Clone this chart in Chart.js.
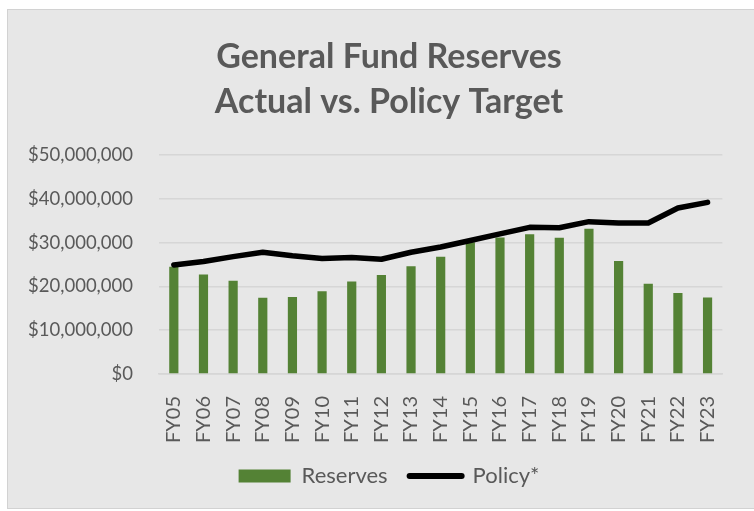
<!DOCTYPE html>
<html>
<head>
<meta charset="utf-8">
<script src="https://cdn.jsdelivr.net/npm/chart.js@4.4.1/dist/chart.umd.min.js"></script>
<style>
  html, body { margin: 0; padding: 0; background: #ffffff; }
  #frame {
    position: absolute; left: 7px; top: 9px;
    width: 747px; height: 500px;
    box-sizing: border-box;
    background: #e7e7e7;
    border-left: 1px solid #d2d2d2;
    border-top: 1px solid #d2d2d2;
    border-bottom: 1px solid #d2d2d2;
  }
  #wrap { position: absolute; left: 0; top: 0; width: 746px; height: 498px; }
</style>
</head>
<body>
<div id="frame"><div id="wrap"><canvas id="chart"></canvas></div></div>
<script>
const fiscalYears = ['FY05','FY06','FY07','FY08','FY09','FY10','FY11','FY12','FY13','FY14',
                     'FY15','FY16','FY17','FY18','FY19','FY20','FY21','FY22','FY23'];

// Actual general fund reserve balance at year end
const reserves = [24500000, 22700000, 21300000, 17400000, 17600000, 18900000, 21100000, 22600000,
                  24600000, 26800000, 30100000, 31200000, 31900000, 31100000, 33200000, 25800000,
                  20600000, 18500000, 17500000];

// Reserve target required by policy
const policy = [24900000, 25700000, 26800000, 27800000, 27000000, 26400000, 26600000, 26200000,
                27800000, 29000000, 30500000, 32000000, 33500000, 33400000, 34800000, 34500000,
                34500000, 37900000, 39200000];

const yTicks = [0, 10000000, 20000000, 30000000, 40000000, 50000000];

const textGray = '#595959';
const fontFamily = 'Lato, "Open Sans", sans-serif';

const money = v => '$' + Number(v).toLocaleString('en-US');

// Let the dollar labels run into the left margin instead of being clipped to the axis box
const widenYLabels = {
  id: 'widenYLabels',
  afterLayout(chart) { chart.scales.y.left = 0; }
};

new Chart(document.getElementById('chart'), {
  plugins: [widenYLabels],
  data: {
    labels: fiscalYears,
    datasets: [
      {
        type: 'bar',
        label: 'Reserves',
        data: reserves,
        backgroundColor: '#548235',
        borderWidth: 0,
        categoryPercentage: 1,
        barPercentage: 0.31,
        order: 2
      },
      {
        type: 'line',
        label: 'Policy*',
        data: policy,
        borderColor: '#000000',
        backgroundColor: '#000000',
        borderWidth: 5.5,
        borderCapStyle: 'round',
        borderJoinStyle: 'round',
        pointRadius: 0,
        tension: 0,
        order: 1
      }
    ]
  },
  options: {
    responsive: true,
    maintainAspectRatio: false,
    animation: false,
    layout: { padding: { left: 33, right: 17, top: 0, bottom: 11 } },
    plugins: {
      title: {
        display: true,
        text: ['General Fund Reserves', 'Actual vs. Policy Target'],
        color: textGray,
        font: { family: fontFamily, size: 34, weight: 'bold', lineHeight: 1.31 },
        padding: { top: 25, bottom: 31 }
      },
      legend: {
        position: 'bottom',
        labels: {
          color: textGray,
          font: { family: fontFamily, size: 22 },
          usePointStyle: true,
          pointStyleWidth: 52,
          boxHeight: 13,
          padding: 22,
          sort: (a, b) => a.datasetIndex - b.datasetIndex,
          generateLabels(chart) {
            const items = Chart.defaults.plugins.legend.labels.generateLabels(chart);
            items.forEach(it => {
              const ds = chart.data.datasets[it.datasetIndex];
              if (ds.type === 'line') {
                it.pointStyle = 'line';
                it.lineWidth = 6;
                it.lineCap = 'round';
                it.strokeStyle = '#000000';
              } else {
                it.pointStyle = 'rect';
                it.lineWidth = 0;
              }
            });
            return items;
          }
        }
      },
      tooltip: { enabled: false }
    },
    scales: {
      x: {
        afterFit(scale) { scale.height = 69; },
        grid: { display: false, drawTicks: false },
        border: { display: true, color: '#d6d6d6', width: 1.5 },
        ticks: {
          color: textGray,
          font: { family: fontFamily, size: 20 },
          minRotation: 90,
          maxRotation: 90,
          padding: 22,
          autoSkip: false
        }
      },
      y: {
        min: 0,
        max: 50000000,
        afterBuildTicks(scale) { scale.ticks = yTicks.map(v => ({ value: v })); },
        afterFit(scale) { scale.width = 118; },
        grid: { color: '#d6d6d6', lineWidth: 1.5, drawTicks: false },
        border: { display: false },
        ticks: {
          color: textGray,
          font: { family: fontFamily, size: 18.5 },
          padding: 26,
          callback: v => money(v)
        }
      }
    }
  }
});
</script>
</body>
</html>
